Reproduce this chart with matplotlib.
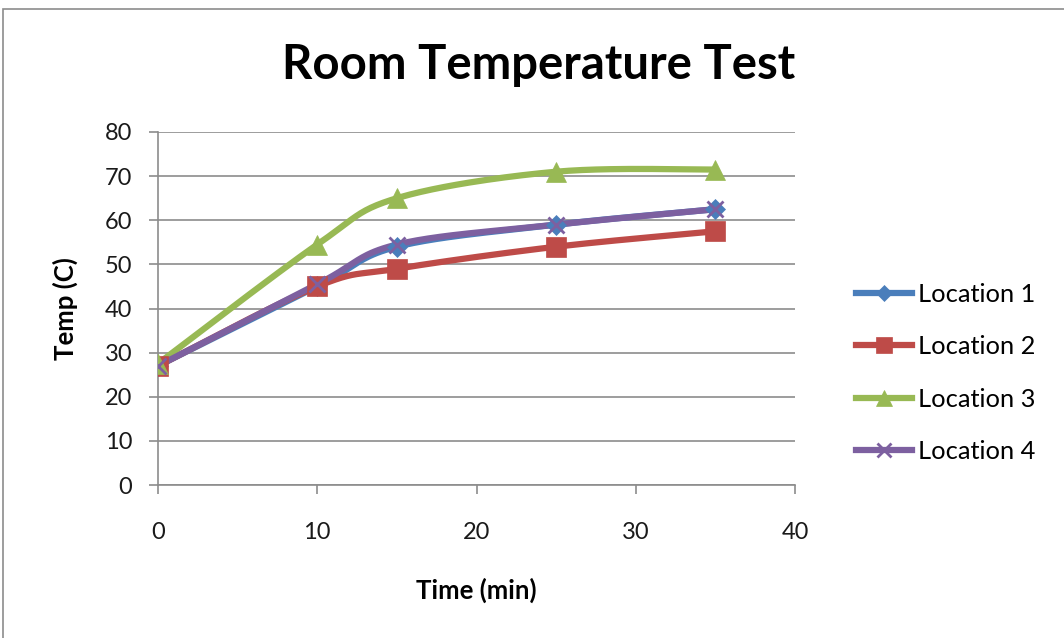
import numpy as np
import matplotlib
matplotlib.use("Agg")
import matplotlib.pyplot as plt
from matplotlib.lines import Line2D
from matplotlib.patches import Rectangle

plt.rcParams['font.family'] = ['Lato', 'DejaVu Sans']

time_min = [0, 10, 15, 25, 35]
location_1 = [27, 45, 54, 59, 62.5]
location_2 = [27, 45, 49, 54, 57.5]
location_3 = [27.5, 54.5, 65, 71, 71.5]
location_4 = [27, 45.5, 54.5, 59, 62.5]
series_names = ["Location 1", "Location 2", "Location 3", "Location 4"]
y_ticks = [0, 10, 20, 30, 40, 50, 60, 70, 80]
x_ticks = [0, 10, 20, 30, 40]

colors = ["#4A7EBB", "#BE4B48", "#98B954", "#7D60A0"]
markers = ["D", "s", "^", "x"]
msizes = [10, 14, 15, 12]


def smooth(x, y, n=40):
    """Cubic Bezier smoothing through points (Catmull-Rom style)."""
    x = np.asarray(x, float)
    y = np.asarray(y, float)
    pts = np.column_stack([x, y])
    out = []
    for i in range(len(pts) - 1):
        p0 = pts[i - 1] if i > 0 else pts[i]
        p1 = pts[i]
        p2 = pts[i + 1]
        p3 = pts[i + 2] if i + 2 < len(pts) else pts[i + 1]
        c1 = p1 + (p2 - p0) / 6.0
        c2 = p2 - (p3 - p1) / 6.0
        t = np.linspace(0, 1, n)[:, None]
        seg = ((1 - t) ** 3) * p1 + 3 * ((1 - t) ** 2) * t * c1 + 3 * (1 - t) * t ** 2 * c2 + t ** 3 * p2
        out.append(seg if i == 0 else seg[1:])
    seg = np.vstack(out)
    return seg[:, 0], seg[:, 1]


fig = plt.figure(figsize=(10.64, 6.38), dpi=100)
fig.patches.append(Rectangle((3 / 1064, -0.01), 1.02, 1 - 9 / 638 + 0.01, transform=fig.transFigure,
                             fill=False, edgecolor="#8c8c8c", linewidth=1.2))

ax = fig.add_axes([158 / 1064, 1 - 485 / 638, (795 - 158) / 1064, (485 - 132) / 638])

all_series = [location_1, location_2, location_3, location_4]
handles = []
for vals, name, c, m, ms in zip(all_series, series_names, colors, markers, msizes):
    sx, sy = smooth(time_min, vals)
    ax.plot(sx, sy, color=c, linewidth=4.5, solid_capstyle="round", zorder=3)
    mew = 2 if m == "x" else 0.5
    ax.plot(time_min, vals, linestyle="none", marker=m, markersize=ms, color=c,
            markeredgecolor=c, markeredgewidth=mew, zorder=4)
    handles.append(Line2D([0], [0], color=c, linewidth=4.5, marker=m, markersize=ms * 0.8,
                          markeredgecolor=c, markeredgewidth=mew))

ax.set_xlim(0, 40)
ax.set_ylim(0, 80)
ax.set_xticks(x_ticks)
ax.set_yticks(y_ticks)
ax.yaxis.grid(True, color="#8c8c8c", linewidth=1.2)
ax.set_axisbelow(True)
for s in ["top", "right"]:
    ax.spines[s].set_visible(False)
for s in ["left", "bottom"]:
    ax.spines[s].set_color("#8c8c8c")
    ax.spines[s].set_linewidth(1.2)
ax.tick_params(axis="both", direction="out", length=6.5, width=1.2, color="#8c8c8c",
               labelsize=17, labelcolor="#1a1a1a")
ax.tick_params(axis="y", pad=12)
ax.tick_params(axis="x", pad=20)

ax.set_xlabel("Time (min)", fontsize=18.5, fontweight="bold")
ax.set_ylabel("Temp (C)", fontsize=18.5, fontweight="bold")
ax.xaxis.set_label_coords(0.5, (485 - 578) / 353)
ax.yaxis.set_label_coords((78 - 158) / 637, 0.5)
fig.text(539 / 1064, 1 - 65 / 638, "Room Temperature Test", fontsize=34, fontweight="bold",
         ha="center", va="center")

fig.legend(handles, series_names, loc="center left", bbox_to_anchor=(856 / 1064, 1 - 373 / 638),
           frameon=False, fontsize=18.3, handlelength=2.2, labelspacing=1.16, handletextpad=0.25,
           borderpad=0, borderaxespad=0)

fig.savefig("out.png", dpi=100)
